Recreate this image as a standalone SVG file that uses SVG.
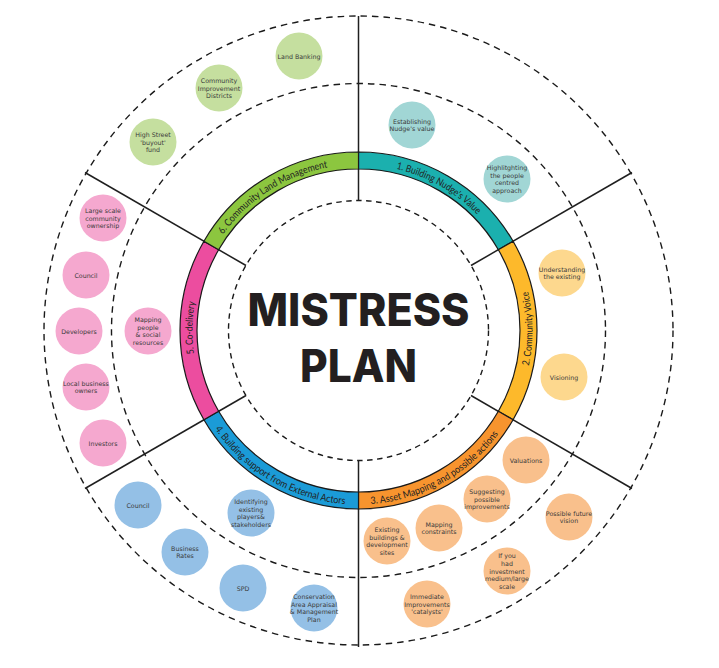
<svg xmlns="http://www.w3.org/2000/svg" width="719" height="668" viewBox="0 0 719 668">
<style>
.dash{fill:none;stroke:#1a1a1a;stroke-width:1.4;stroke-dasharray:6.5 5}
.dash2{fill:none;stroke:#1a1a1a;stroke-width:1.4;stroke-dasharray:5.5 4.5}
.rad{stroke:#1f1f1f;stroke-width:1.5;fill:none}
.seg{stroke:#1a1a1a;stroke-width:1.2}
.lab{font-family:"Lato","Noto Sans",sans-serif;font-size:10px;fill:#222}
.lab textPath{text-anchor:middle}
.t{font-family:"DejaVu Sans","Noto Sans",sans-serif;font-size:6.3px;text-anchor:middle;fill:#3a3a3a}
.title{font-family:"Inter","Liberation Sans",sans-serif;font-weight:800;font-size:45px;text-anchor:middle;fill:#231f20}
.g{fill:#C5DF9F}.c{fill:#A1D6D5}.y{fill:#FDD88E}.o{fill:#F9C08C}.b{fill:#94C0E6}.p{fill:#F5A8CF}
</style>
<defs>
<path id="a1" d="M358.5 164.5A166 166 0 0 1 502.26 247.5"/>
<path id="a2" d="M509.19 417.5A174 174 0 0 0 509.19 243.5"/>
<path id="a3" d="M358.5 504.5A174 174 0 0 0 509.19 417.5"/>
<path id="a4" d="M207.81 417.5A174 174 0 0 0 358.5 504.5"/>
<path id="a5" d="M214.74 413.5A166 166 0 0 1 214.74 247.5"/>
<path id="a6" d="M214.74 247.5A166 166 0 0 1 358.5 164.5"/>
</defs>
<rect width="719" height="668" fill="#fff"/>
<g id="guides">
<circle class="dash" cx="358.5" cy="330.5" r="314.5"/>
<circle class="dash" cx="358.5" cy="330.5" r="247"/>
<circle class="dash2" cx="358.5" cy="330.5" r="130"/>
</g>
<g id="connectors">
<line class="rad" x1="358.5" y1="201" x2="358.5" y2="16"/>
<line class="rad" x1="471" y1="265.5" x2="632" y2="172.5"/>
<line class="rad" x1="471" y1="395.5" x2="632" y2="488.5"/>
<line class="rad" x1="358.5" y1="460" x2="358.5" y2="647"/>
<line class="rad" x1="246" y1="395.5" x2="85" y2="488.5"/>
<line class="rad" x1="246" y1="265.5" x2="85" y2="172.5"/>
</g>
<g id="sector-1"><path class="seg" fill="#1BB0AE" d="M358.5 152A178.5 178.5 0 0 1 513.09 241.25L498.36 249.75A161.5 161.5 0 0 0 358.5 169Z"/><text class="lab"><textPath href="#a1" startOffset="49%" textLength="94" lengthAdjust="spacingAndGlyphs">1. Building Nudge's Value</textPath></text></g>
<g id="sector-2"><path class="seg" fill="#FDB92B" d="M513.09 241.25A178.5 178.5 0 0 1 513.09 419.75L498.36 411.25A161.5 161.5 0 0 0 498.36 249.75Z"/><text class="lab"><textPath href="#a2" startOffset="51%" textLength="75" lengthAdjust="spacingAndGlyphs">2. Community Voice</textPath></text></g>
<g id="sector-3"><path class="seg" fill="#F7942E" d="M513.09 419.75A178.5 178.5 0 0 1 358.5 509L358.5 492A161.5 161.5 0 0 0 498.36 411.25Z"/><text class="lab"><textPath href="#a3" startOffset="48%" textLength="150" lengthAdjust="spacingAndGlyphs">3. Asset Mapping and possible actions</textPath></text></g>
<g id="sector-4"><path class="seg" fill="#1B9BD7" d="M358.5 509A178.5 178.5 0 0 1 203.91 419.75L218.64 411.25A161.5 161.5 0 0 0 358.5 492Z"/><text class="lab"><textPath href="#a4" startOffset="50%" textLength="155" lengthAdjust="spacingAndGlyphs">4. Building support from External Actors</textPath></text></g>
<g id="sector-5"><path class="seg" fill="#EC4D9F" d="M203.91 419.75A178.5 178.5 0 0 1 203.91 241.25L218.64 249.75A161.5 161.5 0 0 0 218.64 411.25Z"/><text class="lab"><textPath href="#a5" startOffset="51.5%" textLength="52" lengthAdjust="spacingAndGlyphs">5. Co-delivery</textPath></text></g>
<g id="sector-6"><path class="seg" fill="#8CC63F" d="M203.91 241.25A178.5 178.5 0 0 1 358.5 152L358.5 169A161.5 161.5 0 0 0 218.64 249.75Z"/><text class="lab"><textPath href="#a6" startOffset="45.5%" textLength="127" lengthAdjust="spacingAndGlyphs">6. Community Land Management</textPath></text></g>
<g id="title"><text class="title" x="358.5" y="326" textLength="222" lengthAdjust="spacingAndGlyphs">MISTRESS</text><text class="title" x="358.5" y="382" textLength="117" lengthAdjust="spacingAndGlyphs">PLAN</text></g>
<g id="n-land-banking"><circle class="g" cx="299" cy="56" r="23.5"/><text class="t" x="299" y="58.5">Land Banking</text></g>
<g id="n-community-improvement"><circle class="g" cx="219" cy="88" r="23.5"/><text class="t"><tspan x="219" y="82.9">Community</tspan><tspan x="219" y="90.5">Improvement</tspan><tspan x="219" y="98.1">Districts</tspan></text></g>
<g id="n-high-street"><circle class="g" cx="153" cy="142" r="23.5"/><text class="t"><tspan x="153" y="136.9">High Street</tspan><tspan x="153" y="144.5">'buyout'</tspan><tspan x="153" y="152.1">fund</tspan></text></g>
<g id="n-establishing"><circle class="c" cx="412" cy="125" r="23.5"/><text class="t"><tspan x="412" y="123.7">Establishing</tspan><tspan x="412" y="131.3">Nudge's value</tspan></text></g>
<g id="n-highlighting"><circle class="c" cx="507" cy="179" r="23.5"/><text class="t"><tspan x="507" y="170.1">Highlitghting</tspan><tspan x="507" y="177.7">the people</tspan><tspan x="507" y="185.3">centred</tspan><tspan x="507" y="192.9">approach</tspan></text></g>
<g id="n-understanding"><circle class="y" cx="562" cy="273" r="23.5"/><text class="t"><tspan x="562" y="271.7">Understanding</tspan><tspan x="562" y="279.3">the existing</tspan></text></g>
<g id="n-visioning"><circle class="y" cx="564" cy="377" r="23.5"/><text class="t" x="564" y="379.5">Visioning</text></g>
<g id="n-valuations"><circle class="o" cx="526" cy="460" r="23.5"/><text class="t" x="526" y="462.5">Valuations</text></g>
<g id="n-suggesting"><circle class="o" cx="487" cy="499" r="23.5"/><text class="t"><tspan x="487" y="493.9">Suggesting</tspan><tspan x="487" y="501.5">possible</tspan><tspan x="487" y="509.1">improvements</tspan></text></g>
<g id="n-future-vision"><circle class="o" cx="569" cy="517" r="23.5"/><text class="t"><tspan x="569" y="515.7">Possible future</tspan><tspan x="569" y="523.3">vision</tspan></text></g>
<g id="n-mapping-constraints"><circle class="o" cx="439" cy="528" r="23.5"/><text class="t"><tspan x="439" y="526.7">Mapping</tspan><tspan x="439" y="534.3">constraints</tspan></text></g>
<g id="n-existing"><circle class="o" cx="387" cy="541" r="23.5"/><text class="t"><tspan x="387" y="532.1">Existing</tspan><tspan x="387" y="539.7">buildings &amp;</tspan><tspan x="387" y="547.3">development</tspan><tspan x="387" y="554.9">sites</tspan></text></g>
<g id="n-if-you"><circle class="o" cx="507" cy="571" r="23.5"/><text class="t"><tspan x="507" y="558.3">If you</tspan><tspan x="507" y="565.9">had</tspan><tspan x="507" y="573.5">investment</tspan><tspan x="507" y="581.1">medium/large</tspan><tspan x="507" y="588.7">scale</tspan></text></g>
<g id="n-immediate"><circle class="o" cx="427" cy="604" r="23.5"/><text class="t"><tspan x="427" y="598.9">Immediate</tspan><tspan x="427" y="606.5">Improvements</tspan><tspan x="427" y="614.1">'catalysts'</tspan></text></g>
<g id="n-council-blue"><circle class="b" cx="138" cy="505" r="23.5"/><text class="t" x="138" y="507.5">Council</text></g>
<g id="n-identifying"><circle class="b" cx="251" cy="513" r="23.5"/><text class="t"><tspan x="251" y="504.1">Identifying</tspan><tspan x="251" y="511.7">existing</tspan><tspan x="251" y="519.3">players&amp;</tspan><tspan x="251" y="526.9">stakeholders</tspan></text></g>
<g id="n-business-rates"><circle class="b" cx="185" cy="552" r="23.5"/><text class="t"><tspan x="185" y="550.7">Business</tspan><tspan x="185" y="558.3">Rates</tspan></text></g>
<g id="n-spd"><circle class="b" cx="243" cy="588" r="23.5"/><text class="t" x="243" y="590.5">SPD</text></g>
<g id="n-conservation"><circle class="b" cx="314" cy="608" r="23.5"/><text class="t"><tspan x="314" y="599.1">Conservation</tspan><tspan x="314" y="606.7">Area Appraisal</tspan><tspan x="314" y="614.3">&amp; Management</tspan><tspan x="314" y="621.9">Plan</tspan></text></g>
<g id="n-large-scale"><circle class="p" cx="103" cy="218" r="23.5"/><text class="t"><tspan x="103" y="212.9">Large scale</tspan><tspan x="103" y="220.5">community</tspan><tspan x="103" y="228.1">ownership</tspan></text></g>
<g id="n-council-pink"><circle class="p" cx="86" cy="275" r="23.5"/><text class="t" x="86" y="277.5">Council</text></g>
<g id="n-developers"><circle class="p" cx="79" cy="331" r="23.5"/><text class="t" x="79" y="333.5">Developers</text></g>
<g id="n-mapping-people"><circle class="p" cx="148" cy="331" r="23.5"/><text class="t"><tspan x="148" y="322.1">Mapping</tspan><tspan x="148" y="329.7">people</tspan><tspan x="148" y="337.3">&amp; social</tspan><tspan x="148" y="344.9">resources</tspan></text></g>
<g id="n-local-business"><circle class="p" cx="86" cy="387" r="23.5"/><text class="t"><tspan x="86" y="385.7">Local business</tspan><tspan x="86" y="393.3">owners</tspan></text></g>
<g id="n-investors"><circle class="p" cx="103" cy="443" r="23.5"/><text class="t" x="103" y="445.5">Investors</text></g>
</svg>
